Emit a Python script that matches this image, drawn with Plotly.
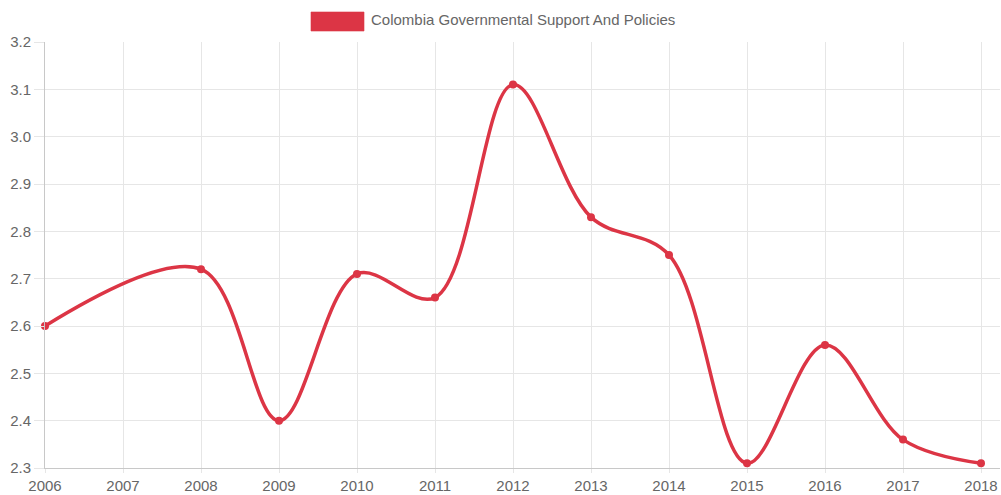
import plotly.graph_objects as go

years = [2006, 2007, 2008, 2009, 2010, 2011, 2012, 2013, 2014, 2015, 2016, 2017, 2018]
values = [2.60, None, 2.72, 2.40, 2.71, 2.66, 3.11, 2.83, 2.75, 2.31, 2.56, 2.36, 2.31]
series_name = "Colombia Governmental Support And Policies"
y_ticks = [2.3, 2.4, 2.5, 2.6, 2.7, 2.8, 2.9, 3.0, 3.1, 3.2]

color = "#dc3545"
font = dict(family="Liberation Sans, Arial, sans-serif", size=15, color="#666666")

fig = go.Figure()
fig.add_trace(go.Scatter(
    x=years, y=values, mode="lines+markers", name=series_name,
    connectgaps=True,
    line=dict(color=color, width=3.5, shape="spline", smoothing=1.0),
    marker=dict(color=color, size=8),
    showlegend=False, cliponaxis=False,
))

fig.add_shape(type="rect", xref="paper", yref="paper",
              x0=(311 - 45) / 955, x1=(364 - 45) / 955,
              y0=1 + (42 - 31) / 426, y1=1 + (42 - 12) / 426,
              fillcolor=color, line=dict(color="rgba(220,53,69,0.6)", width=1))
fig.add_annotation(text=series_name, xref="paper", yref="paper",
                   x=(369 - 45) / 955, y=1 + (42 - 20) / 426,
                   xanchor="left", yanchor="middle", showarrow=False, font=font)

fig.update_layout(
    width=1001, height=495,
    margin=dict(l=45, r=1, t=42, b=27),
    paper_bgcolor="white", plot_bgcolor="white",
    font=font,
    xaxis=dict(range=[2006, 2018 + 19 / 78], tickmode="array", tickvals=years,
               ticktext=[str(y) for y in years], automargin=False,
               showgrid=True, gridcolor="#e6e6e6", gridwidth=1,
               ticks="outside", ticklen=4, tickcolor="#e6e6e6",
               showline=True, linecolor="#c8c8c8", linewidth=1,
               zeroline=False, tickfont=font),
    yaxis=dict(range=[2.3, 3.2], tickmode="array", tickvals=y_ticks,
               ticktext=[f"{v:.1f}" for v in y_ticks], automargin=False,
               showgrid=True, gridcolor="#e6e6e6", gridwidth=1,
               ticks="outside", ticklen=10, tickcolor="#e6e6e6",
               showline=True, linecolor="#c8c8c8", linewidth=1,
               zeroline=False, tickfont=font),
)

fig.write_html("out.html")
